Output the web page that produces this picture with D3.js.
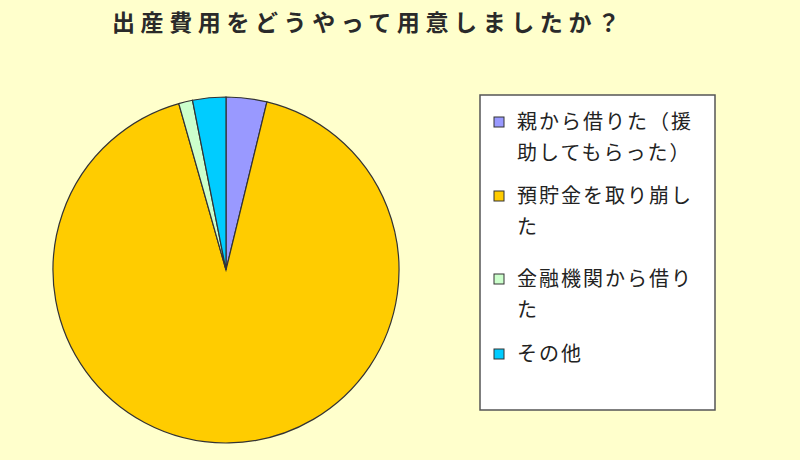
<!DOCTYPE html>
<html>
<head>
<meta charset="utf-8">
<script src="https://cdn.jsdelivr.net/npm/d3@7"></script>
<style>
  body { margin: 0; background: #ffffcc; }
  svg { display: block; }
</style>
</head>
<body>
<div id="chart"></div>
<script>
var svgWidth = 800;
var svgHeight = 460;

// data (percent)
var categories = ["親から借りた（援助してもらった）", "預貯金を取り崩した", "金融機関から借りた", "その他"];
var values = [3.8, 91.8, 1.3, 3.1];
var colors = ["#9999ff", "#ffcc00", "#ccffcc", "#00ccff"];
var title = "出産費用をどうやって用意しましたか？";

var svg = d3.select("#chart")
  .append("svg")
  .attr("width", svgWidth)
  .attr("height", svgHeight);

svg.append("rect")
  .attr("width", svgWidth)
  .attr("height", svgHeight)
  .attr("fill", "#ffffcc");

// title
svg.append("text")
  .attr("x", 112)
  .attr("y", 31)
  .attr("font-family", "Noto Sans CJK JP")
  .attr("font-size", 23)
  .attr("font-weight", 700)
  .attr("letter-spacing", 5.6)
  .attr("fill", "#2a2a2a")
  .text(title);

// pie
var radius = 173;
var pieGroup = svg.append("g")
  .attr("transform", "translate(226, 270)");

var pie = d3.pie().sort(null).value(d => d);
var arc = d3.arc().innerRadius(0).outerRadius(radius);

pieGroup.selectAll("path")
  .data(pie(values))
  .enter()
  .append("path")
  .attr("d", arc)
  .attr("fill", (d, i) => colors[i])
  .attr("stroke", "#333")
  .attr("stroke-width", 1.2);

// legend
var legend = svg.append("g").attr("transform", "translate(480, 95)");
legend.append("rect")
  .attr("width", 235)
  .attr("height", 315)
  .attr("fill", "#fff")
  .attr("stroke", "#555")
  .attr("stroke-width", 1.5);

var lineH = 31;
var itemY = [27, 101, 184, 259];

function chunk(s, n) {
  var out = [];
  var chars = Array.from(s);
  for (var i = 0; i < chars.length; i += n) out.push(chars.slice(i, i + n).join(""));
  return out;
}

categories.forEach(function(c, i) {
  var g = legend.append("g").attr("transform", `translate(0, ${itemY[i]})`);
  g.append("rect")
    .attr("x", 14)
    .attr("y", -5)
    .attr("width", 10)
    .attr("height", 10)
    .attr("fill", colors[i])
    .attr("stroke", "#333")
    .attr("stroke-width", 1);
  var t = g.append("text")
    .attr("font-family", "Noto Sans CJK JP")
    .attr("font-size", 20)
    .attr("letter-spacing", 2)
    .attr("fill", "#222");
  chunk(c, 8).forEach(function(line, j) {
    t.append("tspan")
      .attr("x", 37)
      .attr("y", 7 + j * lineH)
      .text(line);
  });
});
</script>
</body>
</html>
